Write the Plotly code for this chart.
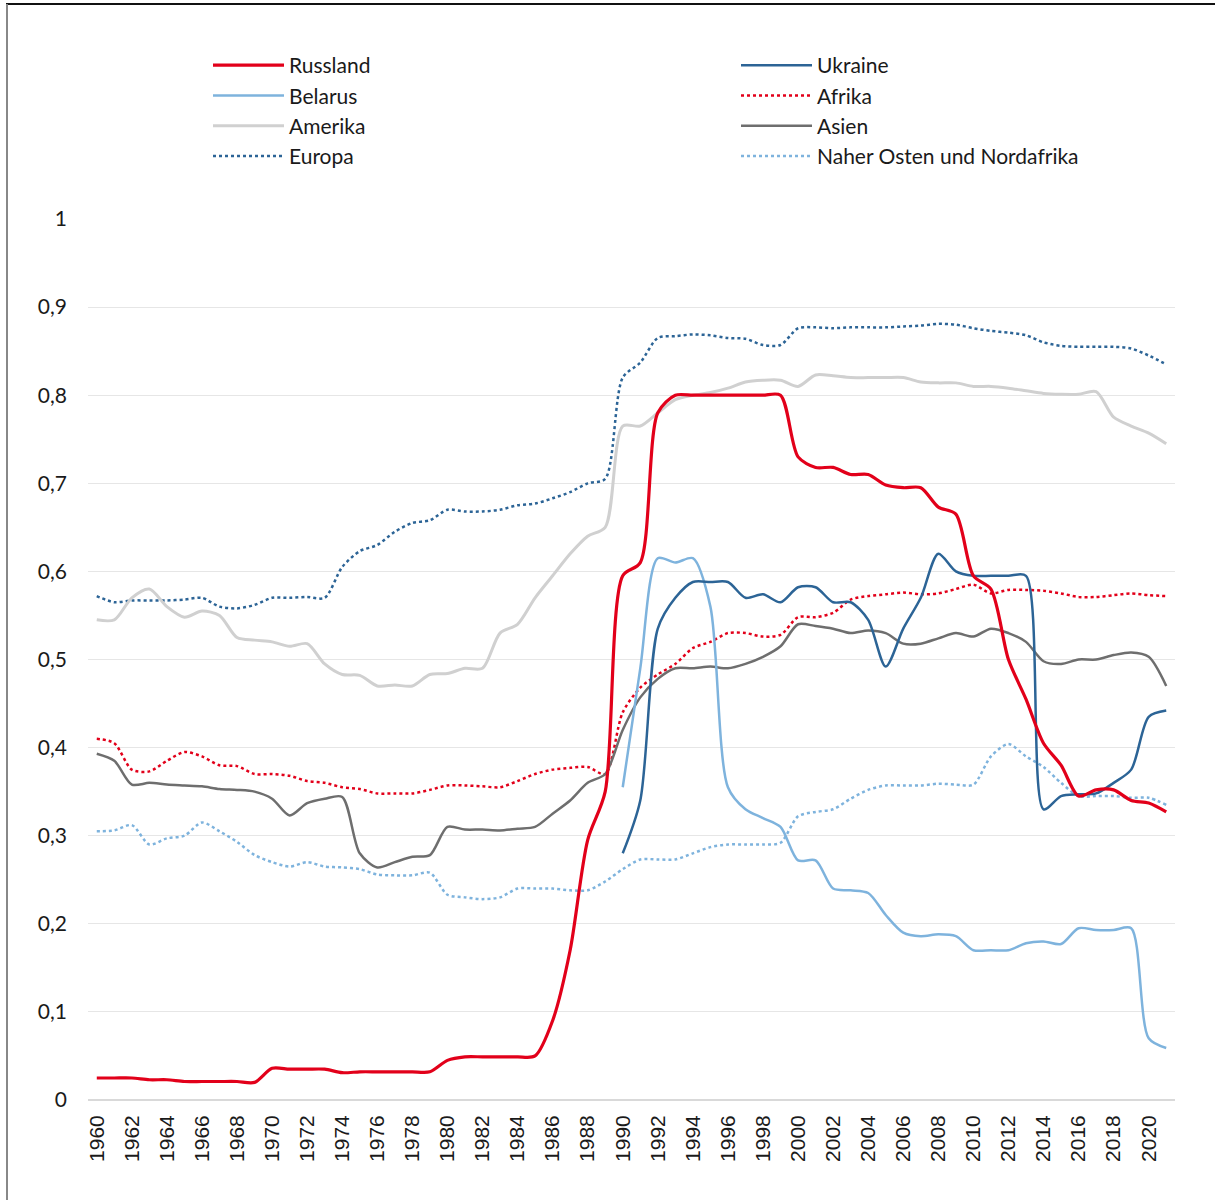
import plotly.graph_objects as go

years = list(range(1960, 2022))

russland = [0.025, 0.025, 0.025, 0.023, 0.023, 0.021, 0.021, 0.021, 0.021, 0.020,
            0.036, 0.035, 0.035, 0.035, 0.031, 0.032, 0.032, 0.032, 0.032, 0.032,
            0.045, 0.049, 0.049, 0.049, 0.049, 0.050, 0.090, 0.170, 0.295, 0.350,
            0.595, 0.610, 0.780, 0.800, 0.800, 0.800, 0.800, 0.800, 0.800, 0.800,
            0.730, 0.718, 0.718, 0.710, 0.710, 0.698, 0.695, 0.695, 0.673, 0.665,
            0.595, 0.580, 0.500, 0.455, 0.405, 0.380, 0.345, 0.352, 0.352, 0.340,
            0.337, 0.327]

ukraine = [None] * 30 + [0.280, 0.340, 0.535, 0.570, 0.588, 0.588, 0.588, 0.570, 0.574, 0.565,
                         0.582, 0.582, 0.565, 0.565, 0.545, 0.492, 0.535, 0.570, 0.620, 0.600,
                         0.595, 0.595, 0.595, 0.595, 0.330, 0.345, 0.347, 0.348, 0.360, 0.375,
                         0.435, 0.442]

belarus = [None] * 30 + [0.355, 0.490, 0.615, 0.610, 0.615, 0.560, 0.355, 0.330, 0.320, 0.310,
                         0.272, 0.272, 0.240, 0.238, 0.235, 0.210, 0.190, 0.186, 0.188, 0.186,
                         0.170, 0.170, 0.170, 0.178, 0.180, 0.177, 0.195, 0.193, 0.193, 0.195,
                         0.070, 0.059]

afrika = [0.410, 0.405, 0.375, 0.373, 0.385, 0.395, 0.390, 0.380, 0.379, 0.370,
          0.370, 0.368, 0.362, 0.360, 0.355, 0.353, 0.348, 0.348, 0.348, 0.352,
          0.357, 0.357, 0.356, 0.355, 0.362, 0.370, 0.375, 0.377, 0.378, 0.370,
          0.440, 0.468, 0.483, 0.495, 0.513, 0.520, 0.530, 0.530, 0.526, 0.528,
          0.548, 0.548, 0.553, 0.568, 0.572, 0.574, 0.576, 0.574, 0.575, 0.580,
          0.585, 0.575, 0.579, 0.579, 0.578, 0.575, 0.571, 0.571, 0.573, 0.575,
          0.573, 0.572]

amerika = [0.545, 0.545, 0.570, 0.580, 0.560, 0.548, 0.555, 0.550, 0.525, 0.522,
           0.520, 0.515, 0.518, 0.495, 0.483, 0.482, 0.470, 0.471, 0.470, 0.483,
           0.484, 0.490, 0.490, 0.530, 0.540, 0.570, 0.595, 0.620, 0.640, 0.650,
           0.765, 0.765, 0.780, 0.795, 0.800, 0.803, 0.808, 0.815, 0.817, 0.817,
           0.810, 0.823, 0.822, 0.820, 0.820, 0.820, 0.820, 0.815, 0.814, 0.814,
           0.810, 0.810, 0.808, 0.805, 0.802, 0.801, 0.801, 0.804, 0.775, 0.765,
           0.757, 0.745]

asien = [0.393, 0.385, 0.358, 0.360, 0.358, 0.357, 0.356, 0.353, 0.352, 0.350,
         0.342, 0.323, 0.337, 0.342, 0.344, 0.280, 0.264, 0.270, 0.276, 0.278,
         0.310, 0.307, 0.307, 0.306, 0.308, 0.310, 0.325, 0.340, 0.360, 0.370,
         0.420, 0.457, 0.478, 0.490, 0.490, 0.492, 0.490, 0.495, 0.503, 0.515,
         0.540, 0.538, 0.535, 0.530, 0.533, 0.530, 0.518, 0.518, 0.524, 0.530,
         0.526, 0.535, 0.530, 0.520, 0.498, 0.495, 0.500, 0.500, 0.505, 0.508,
         0.503, 0.470]

europa = [0.572, 0.565, 0.567, 0.567, 0.567, 0.568, 0.570, 0.560, 0.558, 0.562,
          0.570, 0.570, 0.571, 0.570, 0.605, 0.623, 0.630, 0.645, 0.655, 0.658,
          0.670, 0.668, 0.668, 0.670, 0.675, 0.677, 0.683, 0.690, 0.700, 0.705,
          0.820, 0.837, 0.865, 0.867, 0.869, 0.868, 0.865, 0.864, 0.857, 0.857,
          0.876, 0.877, 0.876, 0.877, 0.877, 0.877, 0.878, 0.879, 0.881, 0.880,
          0.876, 0.873, 0.871, 0.868, 0.860, 0.856, 0.855, 0.855, 0.855, 0.853,
          0.845, 0.835]

nahost = [0.305, 0.306, 0.312, 0.290, 0.297, 0.300, 0.315, 0.305, 0.293, 0.278,
          0.270, 0.265, 0.270, 0.265, 0.264, 0.262, 0.256, 0.255, 0.255, 0.258,
          0.233, 0.230, 0.228, 0.230, 0.240, 0.240, 0.240, 0.238, 0.238, 0.248,
          0.262, 0.273, 0.273, 0.273, 0.280, 0.287, 0.290, 0.290, 0.290, 0.292,
          0.322, 0.327, 0.330, 0.342, 0.352, 0.357, 0.357, 0.357, 0.359, 0.358,
          0.358, 0.390, 0.404, 0.390, 0.378, 0.360, 0.345, 0.345, 0.345, 0.343,
          0.343, 0.335]

x_tick_years = list(range(1960, 2021, 2))
y_tick_vals = [0, 0.1, 0.2, 0.3, 0.4, 0.5, 0.6, 0.7, 0.8, 0.9, 1]
y_tick_text = ["0", "0,1", "0,2", "0,3", "0,4", "0,5", "0,6", "0,7", "0,8", "0,9", "1"]

RED = "#E2001A"
DBLUE = "#2C6496"
LBLUE = "#7EB3DD"
LGRAY = "#D0D0D0"
DGRAY = "#6E6E6E"

series = [
    ("Russland", russland, RED, 3.2, "solid"),
    ("Ukraine", ukraine, DBLUE, 2.5, "solid"),
    ("Belarus", belarus, LBLUE, 2.5, "solid"),
    ("Afrika", afrika, RED, 2.5, "dot"),
    ("Amerika", amerika, LGRAY, 3, "solid"),
    ("Asien", asien, DGRAY, 2.5, "solid"),
    ("Europa", europa, DBLUE, 2.5, "dot"),
    ("Naher Osten und Nordafrika", nahost, LBLUE, 2.5, "dot"),
]

draw_order = ["Europa", "Amerika", "Naher Osten und Nordafrika", "Afrika", "Asien",
              "Belarus", "Ukraine", "Russland"]
legend_rank = {s[0]: i for i, s in enumerate(series)}

fig = go.Figure()
for name in draw_order:
    nm, vals, col, w, dash = next(s for s in series if s[0] == name)
    fig.add_trace(go.Scatter(
        x=years, y=vals, name=nm, mode="lines",
        line=dict(color=col, width=w, dash=dash, shape="spline", smoothing=0.8),
        legendrank=legend_rank[nm] + 1,
        connectgaps=False,
    ))

L, R, T, B = 88, 40, 219, 100
W, H = 1215, 1200
pw = W - L - R
ph = H - T - B

fig.update_layout(
    width=W, height=H,
    margin=dict(l=L, r=R, t=T, b=B, autoexpand=False),
    paper_bgcolor="white", plot_bgcolor="white",
    showlegend=True,
    legend=dict(
        orientation="h",
        x=(208 - L) / pw, xanchor="left",
        y=1 + (T - 45) / ph, yanchor="top",
        font=dict(family="Lato", size=21, color="#1a1a1a"),
        entrywidth=442,
        itemwidth=71,
        traceorder="normal",
        bgcolor="rgba(0,0,0,0)",
    ),
    xaxis=dict(
        range=[1959.5, 2021.5],
        tickmode="array", tickvals=x_tick_years, ticktext=[str(y) for y in x_tick_years],
        tickangle=-90,
        tickfont=dict(family="Liberation Sans", size=21, color="#1a1a1a"),
        showgrid=False, zeroline=False, showline=False, ticks="", ticklen=0,
        ticklabelstandoff=10,
    ),
    yaxis=dict(
        range=[0, 1],
        tickmode="array", tickvals=y_tick_vals, ticktext=y_tick_text,
        tickfont=dict(family="Lato", size=21, color="#1a1a1a"),
        showgrid=True, gridcolor="#E6E6E6", gridwidth=1,
        zeroline=True, zerolinecolor="#D9D9D9", zerolinewidth=2,
        showline=False, ticks="", ticklen=0,
        ticklabelstandoff=20,
    ),
)

# frame lines of the original figure box
fig.add_shape(type="line", xref="paper", yref="paper",
              x0=(6 - L) / pw, x1=(W - L) / pw, y0=1 + (T - 4) / ph, y1=1 + (T - 4) / ph,
              line=dict(color="#111111", width=2))
fig.add_shape(type="line", xref="paper", yref="paper",
              x0=(7 - L) / pw, x1=(7 - L) / pw, y0=1 + (T - 4) / ph, y1=-B / ph,
              line=dict(color="#888888", width=2))

fig.write_html("out.html",
               config={"displayModeBar": False},
               post_script="document.body.style.margin='0px';document.body.style.overflow='hidden';")
